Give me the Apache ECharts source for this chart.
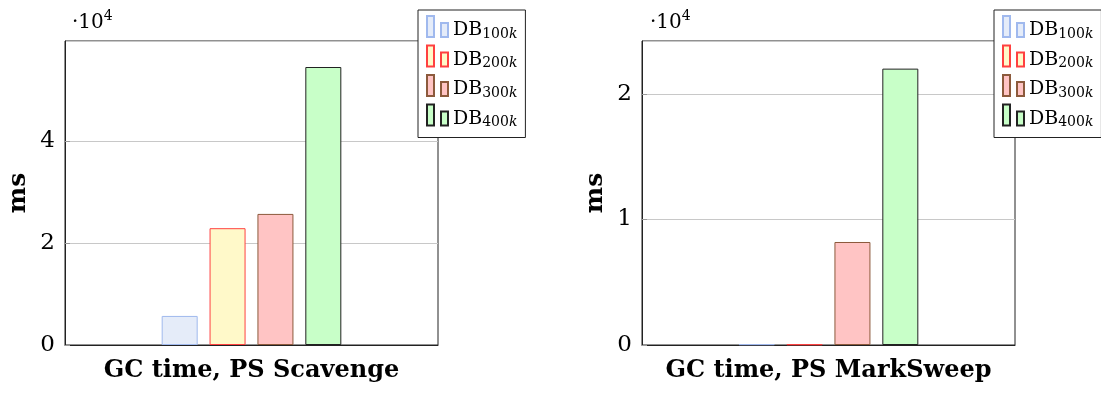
<!DOCTYPE html>
<html>
<head>
<meta charset="utf-8">
<script src="https://cdn.jsdelivr.net/npm/echarts@6/dist/echarts.min.js"></script>
<style>html,body{margin:0;padding:0;background:#fff}#c{width:1101px;height:393px}</style>
</head>
<body>
<div id="c"></div>
<script>
var seriesNames = ['DB100k', 'DB200k', 'DB300k', 'DB400k'];
var categories = ['GC'];
var scavengeValues = [5700, 22900, 25700, 54500];
var markSweepValues = [60, 50, 8200, 22000];
var chartTitles = ['GC time, PS Scavenge', 'GC time, PS MarkSweep'];
var yMax = [59600, 24200];
var yInterval = [20000, 10000];
var yScaleText = ['·10', '4'];
var yAxisTitle = 'ms';

var fills = ['#e5ecf9', '#fff9c9', '#ffc4c4', '#c8ffc8'];
var borders = ['#a0b9ee', '#ff4040', '#8c5a3c', '#222222'];
var FONT = 'DejaVu Serif';

var chart = echarts.init(document.getElementById('c'));

function legendFmt(name) {
  var m = name.match(/^DB(\d+)(k)$/);
  return '{a|DB}{b|' + m[1] + '}{c|' + m[2] + '}';
}
var legendRich = {
  a: {fontFamily: FONT, fontSize: 19, color: '#000', lineHeight: 21},
  b: {fontFamily: FONT, fontSize: 14, color: '#000', lineHeight: 10, verticalAlign: 'bottom'},
  c: {fontFamily: FONT, fontSize: 14, fontStyle: 'italic', color: '#000', lineHeight: 10, verticalAlign: 'bottom'}
};

var grids = [
  {left: 65, top: 41, width: 373, bottom: 48, show: true, borderColor: '#222', borderWidth: 1},
  {left: 642, top: 41, width: 373, bottom: 48, show: true, borderColor: '#222', borderWidth: 1}
];

var xAxes = [], yAxes = [], series = [], legends = [], graphics = [];
[0, 1].forEach(function (g) {
  xAxes.push({
    type: 'category', gridIndex: g, data: categories,
    axisLine: {lineStyle: {color: '#222'}}, axisTick: {show: false}, axisLabel: {show: false},
    name: chartTitles[g], nameLocation: 'middle', nameGap: 14,
    nameTextStyle: {fontFamily: FONT, fontWeight: 'bold', fontSize: 24, color: '#000'}
  });
  yAxes.push({
    type: 'value', gridIndex: g, min: 0, max: yMax[g], interval: yInterval[g],
    axisLine: {show: true, lineStyle: {color: '#222'}},
    axisTick: {show: true, inside: true, length: 5, lineStyle: {color: '#999'}},
    splitLine: {show: true, lineStyle: {color: '#c8c8c8', width: 1}},
    axisLabel: {
      showMaxLabel: false, margin: 10,
      fontFamily: FONT, fontSize: 23, color: '#000',
      formatter: function (v) { return (v % yInterval[g] === 0) ? String(v / 10000) : ''; }
    },
    name: yAxisTitle, nameLocation: 'middle', nameGap: 34,
    nameTextStyle: {fontFamily: FONT, fontWeight: 'bold', fontSize: 25, color: '#000'}
  });
  var vals = g === 0 ? scavengeValues : markSweepValues;
  seriesNames.forEach(function (n, i) {
    series.push({
      type: 'bar', name: n, xAxisIndex: g, yAxisIndex: g,
      data: [vals[i]], barWidth: 36, barGap: '33%',
      itemStyle: {color: fills[i], borderColor: borders[i], borderWidth: 1},
      emphasis: {disabled: true}
    });
  });
  legends.push({
    orient: 'vertical', left: g === 0 ? 418 : 994, top: 10,
    data: seriesNames, icon: 'path://M0,0 h7 v21 h-7 Z M14,7 h7 v14 h-7 Z',
    itemWidth: 21, itemHeight: 21, itemGap: 3.5,
    padding: [5, 8, 8, 8], backgroundColor: '#fff', borderColor: '#222', borderWidth: 1,
    formatter: legendFmt, textStyle: {rich: legendRich, padding: [8, 0, 0, 0]}, selectedMode: false
  });
  graphics.push({
    type: 'text', left: g === 0 ? 72 : 650, top: 9,
    style: {
      text: '{a|' + yScaleText[0] + '}{b|' + yScaleText[1] + '}',
      rich: {
        a: {fontFamily: FONT, fontSize: 20, fill: '#000', padding: [7,0,0,0]},
        b: {fontFamily: FONT, fontSize: 14, fill: '#000', padding: [0,0,7,0]}
      }
    }
  });
});

chart.setOption({
  animation: false,
  grid: grids, xAxis: xAxes, yAxis: yAxes, series: series, legend: legends, graphic: graphics
});
</script>
</body>
</html>
